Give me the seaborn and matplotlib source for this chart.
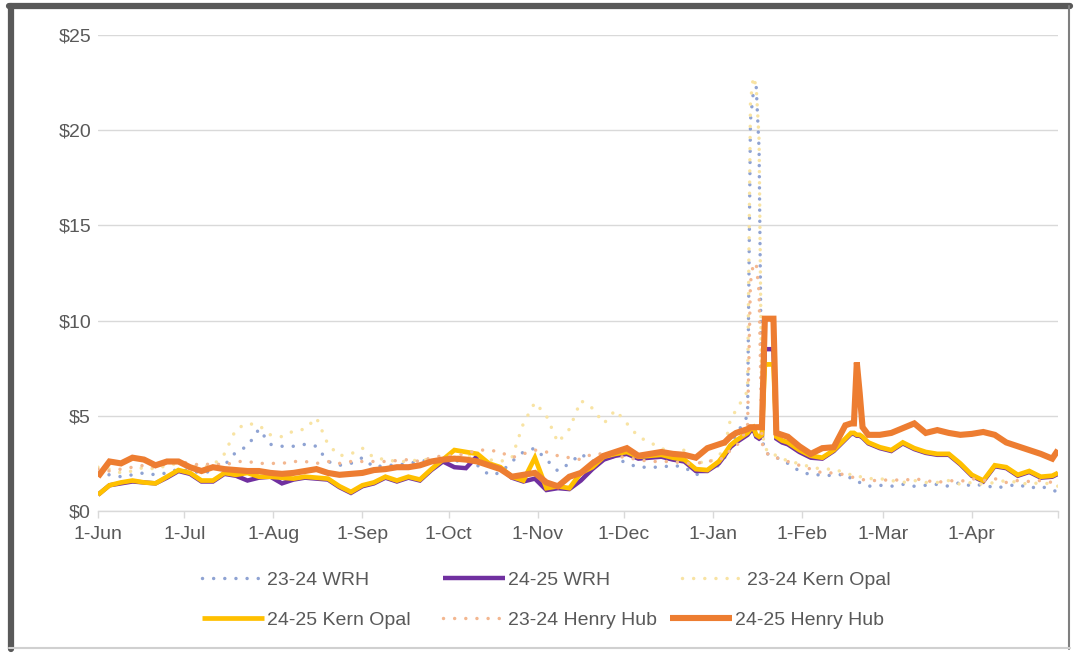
import matplotlib
matplotlib.use("Agg")
import matplotlib.pyplot as plt
import seaborn as sns
import pandas as pd
from matplotlib.lines import Line2D

# ---- data (day offsets from 1-Jun) ----
days = [0, 4, 8, 12, 16, 20, 24, 28, 32, 36, 40, 44, 48, 52, 56, 60, 64, 68, 72, 76,
        80, 84, 88, 92, 96, 100, 104, 108, 112, 116, 120, 124, 128, 132, 136, 140, 144, 148, 152, 156,
        160, 164, 168, 172, 176, 180, 184, 188, 192, 196, 200, 204, 208, 212, 216,
        218, 220, 222, 224, 226, 227, 228, 229, 230, 231, 232, 233, 234, 235, 236, 238, 240, 244,
        248, 252, 256, 260, 262, 263, 264, 265, 266, 268,
        272, 276, 280, 284, 288, 292, 296, 300, 304, 308, 312, 316, 320, 324, 328, 332, 334]

wrh_2324 = [2.0, 1.9, 1.8, 1.9, 2.0, 1.9, 2.0, 2.2, 2.1, 2.0, 2.1, 2.4, 3.1, 3.4, 4.3, 3.5, 3.4, 3.4, 3.5, 3.4,
            2.6, 2.4, 2.5, 2.8, 2.3, 2.4, 2.4, 2.5, 2.6, 2.7, 2.6, 2.6, 2.7, 2.4, 1.9, 2.0, 2.6, 3.1, 3.3, 2.7,
            2.1, 2.5, 3.0, 2.6, 3.0, 2.8, 2.5, 2.3, 2.3, 2.3, 2.4, 2.3, 1.9, 2.1, 2.4,
            2.8, 3.5, 4.0, 4.5, 5.0, 20.5, 22.0, 22.3, 19.0, 3.8, 3.2, 3.0, 3.0, 2.9, 2.8, 2.7, 2.5, 2.1,
            1.9, 1.9, 1.85, 1.95, 1.7, 1.6, 1.5, 1.5, 1.4, 1.3,
            1.35, 1.3, 1.4, 1.3, 1.35, 1.4, 1.3, 1.5, 1.3, 1.4, 1.2, 1.3, 1.4, 1.2, 1.3, 1.1, 1.0]

wrh_2425 = [0.85, 1.35, 1.45, 1.55, 1.5, 1.45, 1.75, 2.1, 1.95, 1.55, 1.55, 1.95, 1.85, 1.6, 1.75, 1.8, 1.45, 1.65, 1.75, 1.7,
            1.65, 1.25, 0.95, 1.3, 1.45, 1.75, 1.55, 1.75, 1.6, 2.15, 2.6, 2.3, 2.25, 2.9, 2.45, 2.25, 1.75, 1.55, 1.7, 1.1,
            1.2, 1.15, 1.6, 2.2, 2.7, 2.9, 3.0, 2.75, 2.8, 2.85, 2.7, 2.6, 2.1, 2.1, 2.5,
            2.9, 3.35, 3.6, 3.8, 4.0, 4.2, 4.3, 3.9, 3.8, 3.9, 8.5, 8.5, 8.5, 8.5, 3.8, 3.6, 3.5, 3.1,
            2.8, 2.75, 3.15, 3.75, 4.05, 4.05, 3.95, 3.95, 3.85, 3.55,
            3.3, 3.15, 3.55, 3.25, 3.05, 2.95, 2.95, 2.45, 1.85, 1.55, 2.35, 2.25, 1.85, 2.05, 1.75, 1.8, 1.95]

kern_2324 = [2.3, 2.2, 2.0, 2.1, 2.3, 2.2, 2.4, 2.5, 2.4, 2.3, 2.4, 3.0, 4.3, 4.6, 4.5, 4.0, 3.9, 4.2, 4.3, 4.9,
             3.5, 2.9, 3.0, 3.3, 2.8, 2.7, 2.6, 2.6, 2.7, 2.7, 2.6, 2.8, 2.9, 2.8, 2.7, 2.6, 2.8, 4.6, 5.7, 5.0,
             3.6, 4.3, 5.8, 5.4, 4.6, 5.3, 4.6, 3.9, 3.6, 3.3, 3.0, 3.2, 2.6, 2.5, 2.9,
             3.3, 4.8, 5.3, 5.8, 6.3, 21.5, 22.8, 22.3, 19.5, 4.2, 3.4, 3.1, 3.0, 3.0, 2.9, 2.8, 2.6, 2.5,
             2.3, 2.2, 2.2, 2.0, 1.9, 1.9, 1.8, 1.8, 1.8, 1.7,
             1.7, 1.6, 1.5, 1.6, 1.5, 1.5, 1.6, 1.4, 1.5, 1.4, 1.5, 1.6, 1.5, 1.4, 1.5, 1.4, 1.3]

kern_2425 = [0.85, 1.35, 1.5, 1.6, 1.5, 1.45, 1.8, 2.15, 2.0, 1.6, 1.6, 2.0, 1.9, 2.0, 1.8, 1.8, 1.75, 1.7, 1.8, 1.75,
             1.7, 1.3, 1.0, 1.35, 1.5, 1.8, 1.6, 1.8, 1.65, 2.2, 2.7, 3.2, 3.1, 3.0, 2.5, 2.3, 1.8, 1.6, 2.8, 1.2,
             1.3, 1.2, 2.0, 2.3, 2.85, 3.0, 3.1, 2.85, 2.9, 2.95, 2.8, 2.7, 2.2, 2.15, 2.6,
             3.0, 3.45, 3.7, 3.9, 4.1, 4.3, 4.4, 4.0, 3.9, 4.0, 7.7, 7.7, 7.7, 7.7, 3.9, 3.7, 3.6, 3.2,
             2.9, 2.8, 3.2, 3.8, 4.1, 4.1, 4.0, 4.0, 3.9, 3.6,
             3.35, 3.2, 3.6, 3.3, 3.1, 3.0, 3.0, 2.5, 1.9, 1.6, 2.4, 2.3, 1.9, 2.1, 1.8, 1.85, 2.0]

hh_2324 = [2.2, 2.1, 2.2, 2.3, 2.4, 2.3, 2.5, 2.6, 2.5, 2.4, 2.5, 2.4, 2.6, 2.6, 2.5, 2.5, 2.5, 2.6, 2.6, 2.5,
           2.6, 2.5, 2.6, 2.6, 2.6, 2.6, 2.65, 2.7, 2.6, 2.8, 2.9, 2.9, 3.0, 3.2, 3.2, 3.1, 2.8, 3.0, 3.2, 3.1,
           2.9, 2.8, 2.7, 3.0, 3.0, 2.9, 2.8, 2.7, 2.6, 2.6, 2.6, 2.5, 2.5, 2.6, 2.7,
           2.8, 3.2, 3.4, 3.8, 4.5, 12.0, 13.0, 13.0, 11.5, 3.6, 3.1, 3.0, 2.9, 2.8, 2.8, 2.7, 2.6, 2.4,
           2.2, 2.0, 2.0, 1.9, 1.8, 1.75, 1.7, 1.7, 1.65, 1.6,
           1.6, 1.65, 1.6, 1.7, 1.6, 1.5, 1.6, 1.55, 1.7, 1.6, 1.7, 1.5, 1.6, 1.55, 1.6, 1.5, 1.6]

hh_2425 = [1.8, 2.6, 2.5, 2.8, 2.7, 2.4, 2.6, 2.6, 2.3, 2.1, 2.3, 2.2, 2.15, 2.1, 2.1, 2.0, 1.95, 2.0, 2.1, 2.2,
           2.0, 1.9, 1.95, 2.0, 2.15, 2.2, 2.3, 2.3, 2.4, 2.6, 2.7, 2.75, 2.7, 2.6, 2.4, 2.2, 1.8, 1.9, 2.0, 1.5,
           1.3, 1.8, 2.0, 2.5, 2.9, 3.1, 3.3, 2.9, 3.0, 3.1, 3.0, 2.95, 2.8, 3.3, 3.5,
           3.6, 3.9, 4.1, 4.2, 4.3, 4.4, 4.4, 4.4, 4.4, 4.4, 10.1, 10.1, 10.1, 10.1, 4.1, 4.0, 3.9, 3.4,
           3.0, 3.3, 3.35, 4.5, 4.6, 4.6, 7.8, 6.2, 4.4, 4.0,
           4.0, 4.1, 4.35, 4.6, 4.1, 4.25, 4.1, 4.0, 4.05, 4.15, 4.0, 3.6, 3.4, 3.2, 3.0, 2.75, 3.2]

series_names = ["23-24 WRH", "24-25 WRH", "23-24 Kern Opal",
                "24-25 Kern Opal", "23-24 Henry Hub", "24-25 Henry Hub"]
series_values = [wrh_2324, wrh_2425, kern_2324, kern_2425, hh_2324, hh_2425]

month_ticks = [0, 30, 61, 92, 122, 153, 183, 214, 245, 273, 304, 334]
month_labels = ["1-Jun", "1-Jul", "1-Aug", "1-Sep", "1-Oct", "1-Nov", "1-Dec",
                "1-Jan", "1-Feb", "1-Mar", "1-Apr", ""]
y_ticks = [0, 5, 10, 15, 20, 25]
y_labels = ["\\$0", "\\$5", "\\$10", "\\$15", "\\$20", "\\$25"]

# ---- styles ----
DOT = (0, (0.01, 3.2))
styles = {
    "23-24 WRH": dict(color="#8FA3D3", lw=2.5, ls=DOT),
    "24-25 WRH": dict(color="#7030A0", lw=3.2, ls="-"),
    "23-24 Kern Opal": dict(color="#F8E3A3", lw=2.5, ls=DOT),
    "24-25 Kern Opal": dict(color="#FFC000", lw=3.4, ls="-"),
    "23-24 Henry Hub": dict(color="#F3B790", lw=2.5, ls=DOT),
    "24-25 Henry Hub": dict(color="#ED7D31", lw=4.4, ls="-"),
}

sns.set_theme(style="white")
plt.rcParams["font.family"] = ["Liberation Sans", "DejaVu Sans"]

W, H = 1076, 653
fig = plt.figure(figsize=(W / 100, H / 100), dpi=100)
fig.patch.set_facecolor("white")
ax = fig.add_axes([98 / W, 1 - 511 / H, 960 / W, 476 / H])

handles = []
for name, vals in zip(series_names, series_values):
    df = pd.DataFrame({"day": days, "price": vals})
    st = styles[name]
    sns.lineplot(data=df, x="day", y="price", ax=ax, color=st["color"],
                 linewidth=st["lw"], linestyle=st["ls"], estimator=None, sort=False,
                 dash_capstyle="round", solid_joinstyle="miter", solid_capstyle="butt")
    handles.append(Line2D([0], [0], color=st["color"], lw=st["lw"], ls=st["ls"],
                          dash_capstyle="round", solid_capstyle="butt"))
leg = ax.get_legend()
if leg is not None:
    leg.remove()

ax.set_xlim(0, 334)
ax.set_ylim(0, 25)
ax.set_xticks(month_ticks)
ax.set_xticklabels(month_labels)
ax.set_yticks(y_ticks)
ax.set_yticklabels(y_labels)
ax.set_xlabel("")
ax.set_ylabel("")
ax.grid(axis="y", color="#D9D9D9", lw=1.0)
ax.grid(axis="x", visible=False)
ax.set_axisbelow(True)
for s in ["top", "right", "left"]:
    ax.spines[s].set_visible(False)
ax.spines["bottom"].set_color("#D9D9D9")
ax.spines["bottom"].set_linewidth(1.0)
ax.tick_params(axis="x", length=5, width=1, color="#D9D9D9", labelcolor="#595959",
               labelsize=14, pad=6, bottom=True, direction="out")
ax.tick_params(axis="y", length=0, labelcolor="#595959", labelsize=14, pad=5)

# ---- legend: one entry at a time to match spacing ----
positions = [(202, 580), (443, 580), (682, 580), (202, 620), (443, 620), (670, 620)]
for h, name, (px, py) in zip(handles, series_names, positions):
    fig.legend(handles=[h], labels=[name], loc="center left",
               bbox_to_anchor=(px / W, 1 - py / H), frameon=False,
               handlelength=3.2, handletextpad=0.15, borderpad=0, borderaxespad=0,
               fontsize=14, labelcolor="#595959")

# ---- outer frame of the screenshot ----
dark = "#595959"
fig.add_artist(Line2D([9 / W, 1070 / W], [1 - 6 / H, 1 - 6 / H], color=dark, lw=4.5,
                      transform=fig.transFigure))
fig.add_artist(Line2D([11 / W, 11 / W], [1 - 6 / H, 1 - 649 / H], color=dark, lw=4.5,
                      transform=fig.transFigure))
fig.add_artist(Line2D([1069 / W, 1069 / W], [1 - 6 / H, 1 - 649 / H], color="#7F7F7F", lw=1.5,
                      transform=fig.transFigure))
fig.add_artist(Line2D([9 / W, 1070 / W], [1 - 648 / H, 1 - 648 / H], color="#D0D0D0", lw=1.5,
                      transform=fig.transFigure))

fig.savefig("out.png", dpi=100, facecolor="white")
